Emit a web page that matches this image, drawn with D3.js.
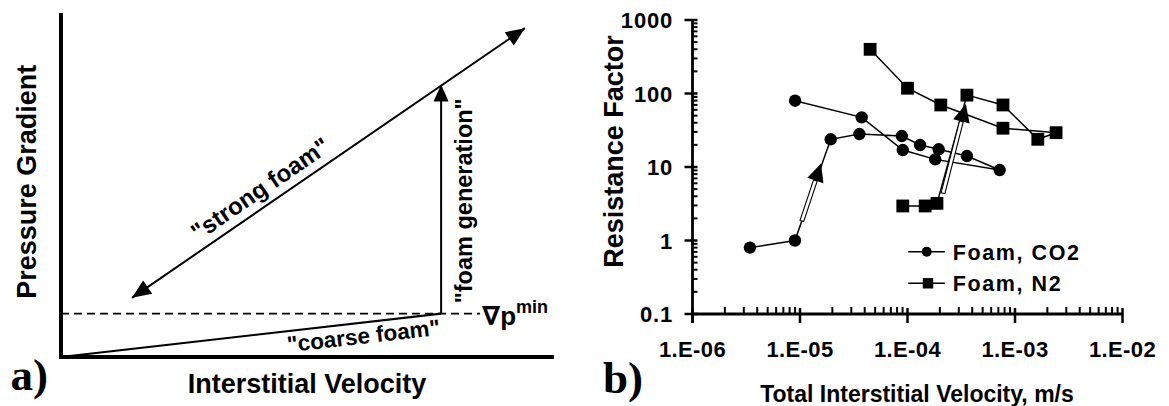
<!DOCTYPE html>
<html><head><meta charset="utf-8">
<script src="https://cdn.jsdelivr.net/npm/d3@7"></script>
<style>
body{margin:0;background:#fff}
svg{display:block}
text{font-family:"Liberation Sans",Arial,"DejaVu Sans",sans-serif;font-weight:bold;fill:#000}
</style>
</head><body>
<svg id="c" width="1169" height="406"></svg>
<script>
// ---------- Panel a: schematic (normalized units 0..1) ----------
const pminLevel = 0.126;
const dashedSpan = [0, 0.85];
const coarseFoam = [[0, 0], [0.771, 0.126]];
const foamGeneration = [[0.771, 0.126], [0.771, 0.792]];
const strongFoam = [[0.144, 0.172], [0.941, 0.956]];
const panelATexts = ["\"strong foam\"", "\"coarse foam\"", "\"foam generation\""];

// ---------- Panel b: data ----------
const co2Velocity = [3.42e-6, 8.97e-6, 1.93e-5, 3.57e-5, 8.85e-5, 1.31e-4, 1.95e-4, 3.57e-4, 7.2e-4, 1.81e-4, 9.04e-5, 3.75e-5, 9.0e-6];
const co2Resistance = [0.80, 1.0, 23.8, 28.1, 26.4, 19.9, 17.4, 14.1, 9.1, 12.7, 17.0, 47.4, 79.8];
const n2Velocity = [9.04e-5, 1.46e-4, 1.88e-4, 3.57e-4, 7.73e-4, 1.63e-3, 2.41e-3, 7.73e-4, 2.04e-4, 1.0e-4, 4.49e-5];
const n2Resistance = [2.95, 2.95, 3.2, 95, 69.8, 23.8, 29.3, 33.7, 69.8, 118, 399];
const seriesNames = ["Foam, CO2", "Foam, N2"];
const xTickValues = [1e-6, 1e-5, 1e-4, 1e-3, 1e-2];
const xTickLabels = ["1.E-06", "1.E-05", "1.E-04", "1.E-03", "1.E-02"];
const yTickValues = [0.1, 1, 10, 100, 1000];
const yTickLabels = ["0.1", "1", "10", "100", "1000"];
const arrowFrom = [[1.04e-5, 1.84], [2.14e-4, 4.4]];
const arrowTo = [[1.57e-5, 11.2], [3.49e-4, 72]];

const svg = d3.select("#c");

function headPts(tip, from, len, hw) {
  const dx = tip[0] - from[0], dy = tip[1] - from[1], L = Math.hypot(dx, dy);
  const ux = dx / L, uy = dy / L;
  const bx = tip[0] - ux * len, by = tip[1] - uy * len;
  return [tip, [bx - uy * hw, by + ux * hw], [bx + uy * hw, by - ux * hw]];
}

// ================= Panel a =================
const ax = d3.scaleLinear().domain([0, 1]).range([61, 554]);
const ay = d3.scaleLinear().domain([0, 1]).range([357, 13]);
const ga = svg.append("g");

ga.append("line").attr("x1", ax(0)).attr("x2", ax(0)).attr("y1", ay(1)).attr("y2", ay(0) + 2)
  .attr("stroke", "#000").attr("stroke-width", 4);
ga.append("line").attr("x1", ax(0) - 2).attr("x2", ax(1)).attr("y1", ay(0)).attr("y2", ay(0))
  .attr("stroke", "#000").attr("stroke-width", 4);

ga.append("line").attr("x1", ax(dashedSpan[0])).attr("x2", ax(dashedSpan[1]))
  .attr("y1", ay(pminLevel)).attr("y2", ay(pminLevel))
  .attr("stroke", "#000").attr("stroke-width", 1.6).attr("stroke-dasharray", "8,5");

const lineA = d3.line().x(d => ax(d[0])).y(d => ay(d[1]));
ga.append("path").attr("d", lineA(coarseFoam)).attr("stroke", "#000").attr("stroke-width", 2.2).attr("fill", "none");
{
  const p0 = [ax(foamGeneration[0][0]), ay(foamGeneration[0][1])];
  const p1 = [ax(foamGeneration[1][0]), ay(foamGeneration[1][1])];
  ga.append("line").attr("x1", p0[0]).attr("y1", p0[1]).attr("x2", p1[0]).attr("y2", p1[1] + 10)
    .attr("stroke", "#000").attr("stroke-width", 2);
  ga.append("polygon").attr("points", headPts(p1, p0, 17, 7.5).join(" ")).attr("fill", "#000");
}
{
  const p0 = [ax(strongFoam[0][0]), ay(strongFoam[0][1])];
  const p1 = [ax(strongFoam[1][0]), ay(strongFoam[1][1])];
  ga.append("line").attr("x1", p0[0]).attr("y1", p0[1]).attr("x2", p1[0]).attr("y2", p1[1])
    .attr("stroke", "#000").attr("stroke-width", 2);
  ga.append("polygon").attr("points", headPts(p1, p0, 19, 8).join(" ")).attr("fill", "#000");
  ga.append("polygon").attr("points", headPts(p0, p1, 19, 8).join(" ")).attr("fill", "#000");
  const ang = Math.atan2(p1[1] - p0[1], p1[0] - p0[0]) * 180 / Math.PI;
  const t = (270 - p0[0]) / (p1[0] - p0[0]);
  const mx = p0[0] + t * (p1[0] - p0[0]), my = p0[1] + t * (p1[1] - p0[1]);
  ga.append("text").attr("transform", `translate(${mx},${my}) rotate(${ang})`)
    .attr("x", 0).attr("y", -9).attr("text-anchor", "middle").style("font-size", "24px")
    .text(panelATexts[0]);
}
{
  const p0 = [ax(coarseFoam[0][0]), ay(coarseFoam[0][1])];
  const p1 = [ax(coarseFoam[1][0]), ay(coarseFoam[1][1])];
  const ang = Math.atan2(p1[1] - p0[1], p1[0] - p0[0]) * 180 / Math.PI;
  const t = (362 - p0[0]) / (p1[0] - p0[0]);
  const mx = p0[0] + t * (p1[0] - p0[0]), my = p0[1] + t * (p1[1] - p0[1]);
  ga.append("text").attr("transform", `translate(${mx},${my}) rotate(${ang})`)
    .attr("x", 0).attr("y", 21).attr("text-anchor", "middle").style("font-size", "22.5px")
    .text(panelATexts[1]);
}
ga.append("text").attr("transform", `translate(${ax(foamGeneration[0][0]) + 31},200.8) rotate(-90)`)
  .attr("text-anchor", "middle").style("font-size", "23.5px").text(panelATexts[2]);
{
  const t = ga.append("text").attr("x", ax(dashedSpan[1]) + 2).attr("y", ay(pminLevel) + 11).style("font-size", "26px");
  t.append("tspan").text("\u2207p");
  t.append("tspan").attr("dy", -12).style("font-size", "18px").text("min");
}
ga.append("text").attr("transform", "translate(35.5,181.7) rotate(-90)").attr("text-anchor", "middle")
  .style("font-size", "27px").text("Pressure Gradient");
ga.append("text").attr("x", 307).attr("y", 393).attr("text-anchor", "middle")
  .style("font-size", "27px").text("Interstitial Velocity");
ga.append("text").attr("x", 10.5).attr("y", 390).style("font-family", "'Liberation Serif','Times New Roman',serif")
  .style("font-size", "45px").text("a)");

// ================= Panel b =================
const x = d3.scaleLog().domain([1e-6, 1e-2]).range([692.5, 1122.5]);
const y = d3.scaleLog().domain([0.1, 1000]).range([314, 20]);
const gb = svg.append("g");

const xMinor = x.ticks().filter(v => !xTickValues.some(t => Math.abs(t - v) / t < 1e-6));
const yMinor = y.ticks().filter(v => !yTickValues.some(t => Math.abs(t - v) / t < 1e-6));
gb.selectAll(".xm").data(xMinor).join("line").attr("x1", d => x(d)).attr("x2", d => x(d))
  .attr("y1", y(0.1)).attr("y2", y(0.1) - 7).attr("stroke", "#000").attr("stroke-width", 2);
gb.selectAll(".ym").data(yMinor).join("line").attr("y1", d => y(d)).attr("y2", d => y(d))
  .attr("x1", x(1e-6)).attr("x2", x(1e-6) + 5).attr("stroke", "#000").attr("stroke-width", 2);
gb.selectAll(".xM").data(xTickValues).join("line").attr("x1", d => x(d)).attr("x2", d => x(d))
  .attr("y1", y(0.1) - 6).attr("y2", y(0.1) + 9).attr("stroke", "#000").attr("stroke-width", 2.5);
gb.selectAll(".yM").data(yTickValues).join("line").attr("y1", d => y(d)).attr("y2", d => y(d))
  .attr("x1", x(1e-6) - 8).attr("x2", x(1e-6) + 5).attr("stroke", "#000").attr("stroke-width", 2.5);
gb.append("line").attr("x1", x(1e-6)).attr("x2", x(1e-6)).attr("y1", y(1000)).attr("y2", y(0.1) + 9)
  .attr("stroke", "#000").attr("stroke-width", 2.8);
gb.append("line").attr("x1", x(1e-6)).attr("x2", x(1e-2)).attr("y1", y(0.1)).attr("y2", y(0.1))
  .attr("stroke", "#000").attr("stroke-width", 2.8);
gb.selectAll(".xl").data(xTickValues).join("text").attr("x", d => x(d)).attr("y", 357)
  .attr("text-anchor", "middle").style("font-size", "22px").style("letter-spacing", "0.4px")
  .text((d, i) => xTickLabels[i]);
gb.selectAll(".yl").data(yTickValues).join("text").attr("x", 673).attr("y", d => y(d) + 8.3)
  .attr("text-anchor", "end").style("font-size", "22px").style("letter-spacing", "0.8px")
  .text((d, i) => yTickLabels[i]);
gb.append("text").attr("x", 917).attr("y", 401.5).attr("text-anchor", "middle")
  .style("font-size", "23px").text("Total Interstitial Velocity, m/s");
gb.append("text").attr("transform", "translate(623,151.5) rotate(-90)").attr("text-anchor", "middle")
  .style("font-size", "27px").text("Resistance Factor");
gb.append("text").attr("x", 603).attr("y", 393.3).style("font-family", "'Liberation Serif','Times New Roman',serif")
  .style("font-size", "45px").text("b)");

const co2 = co2Velocity.map((v, i) => [v, co2Resistance[i]]);
const n2 = n2Velocity.map((v, i) => [v, n2Resistance[i]]);
const lineB = d3.line().x(d => x(d[0])).y(d => y(d[1]));
gb.append("path").attr("d", lineB(co2)).attr("fill", "none").attr("stroke", "#000").attr("stroke-width", 1.5);
gb.append("path").attr("d", lineB(n2)).attr("fill", "none").attr("stroke", "#000").attr("stroke-width", 1.5);
gb.selectAll(".c").data(co2).join("circle").attr("cx", d => x(d[0])).attr("cy", d => y(d[1])).attr("r", 6.2).attr("fill", "#000");
gb.selectAll(".s").data(n2).join("rect").attr("x", d => x(d[0]) - 6.4).attr("y", d => y(d[1]) - 6.4)
  .attr("width", 12.8).attr("height", 12.8).attr("fill", "#000");

arrowFrom.forEach((f, i) => {
  const p0 = [x(f[0]), y(f[1])];
  const p1 = [x(arrowTo[i][0]), y(arrowTo[i][1])];
  const h = headPts(p1, p0, 18, 8.5);
  const bx = (h[1][0] + h[2][0]) / 2, by = (h[1][1] + h[2][1]) / 2;
  const dx = p1[0] - p0[0], dy = p1[1] - p0[1], L = Math.hypot(dx, dy);
  const nx = -dy / L * 1.9, ny = dx / L * 1.9;
  const shaft = [[p0[0] + nx, p0[1] + ny], [bx + nx, by + ny], [bx - nx, by - ny], [p0[0] - nx, p0[1] - ny]];
  gb.append("polygon").attr("points", shaft.join(" ")).attr("fill", "#fff").attr("stroke", "#000").attr("stroke-width", 1.1);
  gb.append("polygon").attr("points", h.join(" ")).attr("fill", "#000");
});

const legY = [251.7, 283.3];
seriesNames.forEach((name, i) => {
  gb.append("line").attr("x1", 908.3).attr("x2", 945).attr("y1", legY[i]).attr("y2", legY[i])
    .attr("stroke", "#000").attr("stroke-width", 1.5);
  if (i === 0) gb.append("circle").attr("cx", 926.7).attr("cy", legY[i]).attr("r", 5).attr("fill", "#000");
  else gb.append("rect").attr("x", 928 - 5.2).attr("y", legY[i] - 5.2).attr("width", 10.4).attr("height", 10.4).attr("fill", "#000");
  gb.append("text").attr("x", 952.7).attr("y", legY[i] + 7.8).style("font-size", "21.5px")
    .style("letter-spacing", "1.6px").text(name);
});
</script>
</body></html>
